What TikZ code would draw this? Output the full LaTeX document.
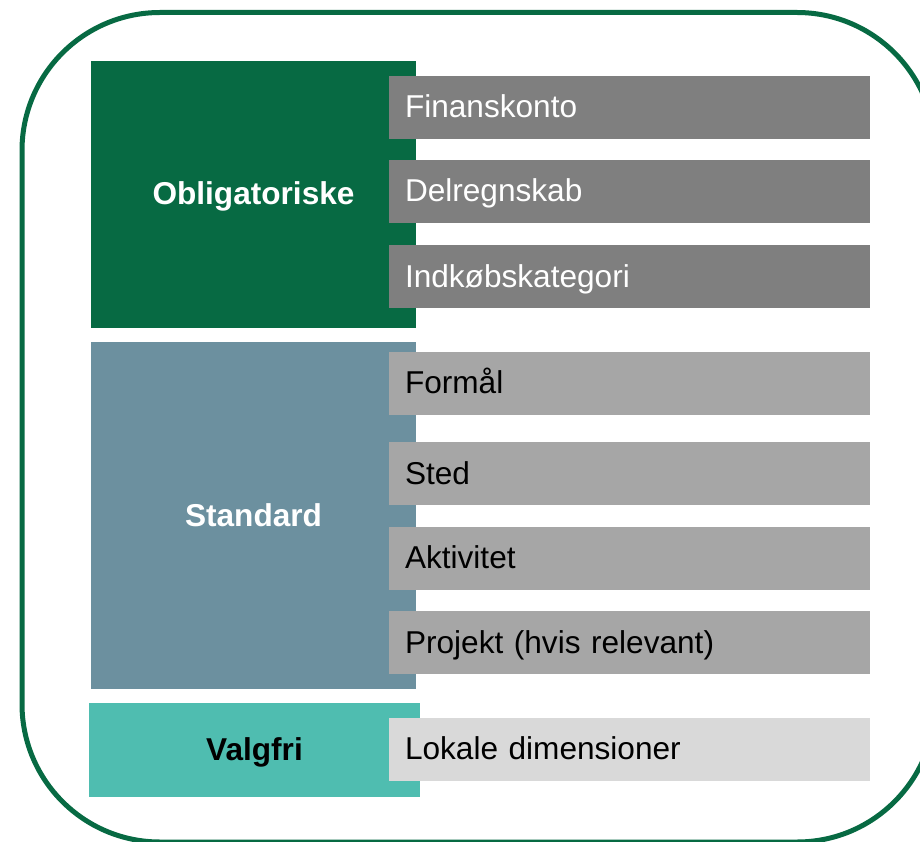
\documentclass[tikz,border=0pt]{standalone}
\usepackage{fontspec}
\setmainfont{Liberation Sans}
\definecolor{dkgreen}{HTML}{076A43}
\definecolor{slate}{HTML}{6C909F}
\definecolor{teal}{HTML}{4FBDB0}
\definecolor{gdark}{HTML}{7F7F7F}
\definecolor{gmid}{HTML}{A6A6A6}
\definecolor{glight}{HTML}{D9D9D9}
\tikzset{
  grp/.style={rectangle, inner sep=0pt, text height=21pt, text depth=0pt,
    font=\fontsize{31.6}{38}\selectfont\bfseries},
  item/.style={rectangle, inner sep=0pt, minimum width=481pt, minimum height=63pt,
    text height=21pt, text depth=0pt,
    text width=449pt, align=left, font=\fontsize{31.6}{38}\selectfont},
}
\begin{document}
\begin{tikzpicture}[x=1pt,y=-1pt]
\useasboundingbox (0,0) rectangle (920,842);
\draw[dkgreen, line width=5pt, rounded corners=138pt] (22,12.5) rectangle (935,842);
% group boxes
\node[grp, fill=dkgreen, text=white, minimum width=325pt, minimum height=267pt] (obl) at (253.5,194.5) {Obligatoriske};
\node[grp, fill=slate, text=white, minimum width=325pt, minimum height=347pt] (std) at (253.5,515.5) {Standard};
\node[grp, fill=teal, text=black, minimum width=331pt, minimum height=94pt] (val) at (254.5,750) {Valgfri};
% items
\node[item, fill=gdark, text=white] (fin) at (629.5,107.5) {Finanskonto};
\node[item, fill=gdark, text=white] (del) at (629.5,191.5) {Delregnskab};
\node[item, fill=gdark, text=white] (ind) at (629.5,276.5) {Indkøbskategori};
\node[item, fill=gmid, text=black] (for) at (629.5,383) {Formål};
\node[item, fill=gmid, text=black] (sted) at (629.5,473.5) {Sted};
\node[item, fill=gmid, text=black] (akt) at (629.5,558) {Aktivitet};
\node[item, fill=gmid, text=black] (pro) at (629.5,642.5) {Projekt (hvis relevant)};
\node[item, fill=glight, text=black] (lok) at (629.5,749) {Lokale dimensioner};
\end{tikzpicture}
\end{document}
